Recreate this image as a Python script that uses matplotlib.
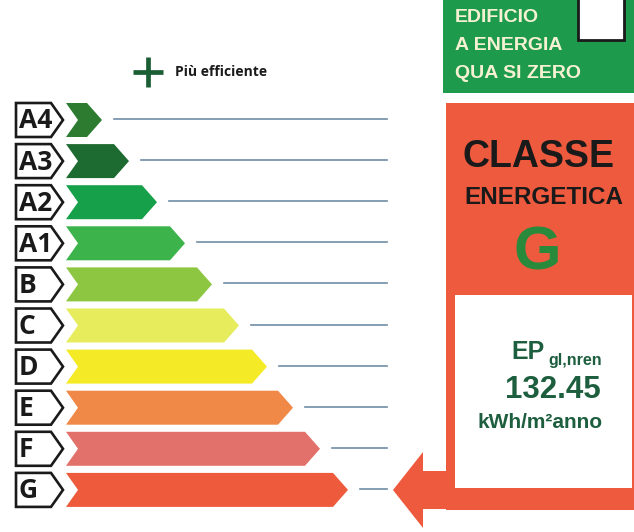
import matplotlib.pyplot as plt
from matplotlib.patches import Polygon, Rectangle

# energy classes, top to bottom, with the x position of each arrow tip
classes = ['A4', 'A3', 'A2', 'A1', 'B', 'C', 'D', 'E', 'F', 'G']
bar_tips = [102, 129, 157, 185, 212, 239, 267, 293, 320, 348]
bar_colors = ['#2c7b30', '#1e6b31', '#17a04a', '#3cb44b', '#8dc640',
              '#e6ec5c', '#f4ea25', '#f08848', '#e2716b', '#ee5a3c']
current_class = 'G'
ep_value = '132.45'

fig = plt.figure(figsize=(6.34, 5.32), dpi=100)
ax = fig.add_axes([0, 0, 1, 1])
ax.set_xlim(0, 634)
ax.set_ylim(532, 0)
ax.axis('off')

row0, step, h = 120, 41.1, 34
x0, notch, point = 66, 12, 15

for i, (cl, tip, col) in enumerate(zip(classes, bar_tips, bar_colors)):
    yc = row0 + i * step
    top, bot = yc - h / 2, yc + h / 2
    # label box
    lab = Polygon([(16, top), (51, top), (63, yc), (51, bot), (16, bot)],
                  closed=True, facecolor='white', edgecolor='#1a1a1a', lw=1.9)
    ax.add_patch(lab)
    ax.text(19, yc + 1, cl, fontsize=19, family='Open Sans', weight='bold',
            color='#1a1a1a', ha='left', va='center')
    # arrow bar
    bar = Polygon([(x0, top), (tip - point, top), (tip, yc), (tip - point, bot),
                   (x0, bot), (x0 + notch, yc)], closed=True, facecolor=col,
                  edgecolor='none')
    ax.add_patch(bar)
    ax.plot([tip + 12, 387], [yc - 1, yc - 1], color='#6f8ea8', lw=1.2)

# "Più efficiente" header
ax.plot([133, 163], [72, 72], color='#1b5e34', lw=3.4, solid_capstyle='butt')
ax.plot([148, 148], [57, 87], color='#1b5e34', lw=3.4, solid_capstyle='butt')
ax.text(175, 72, 'Più efficiente', fontsize=10, weight='bold',
        family='Open Sans', color='#1a1a1a', ha='left', va='center')

# nZEB box
ax.add_patch(Rectangle((443, -5), 200, 98, facecolor='#1d9a4c', edgecolor='none'))
ax.add_patch(Rectangle((578, -5), 46, 45, facecolor='white', edgecolor='#1a1a1a', lw=2))
for j, line in enumerate(['EDIFICIO', 'A ENERGIA', 'QUA SI ZERO']):
    ax.text(455, 18 + j * 28, line, fontsize=14, weight='bold',
            family='Liberation Sans', color='#f6f1d2', ha='left', va='center')

# class panel
red = '#ee5a3e'
ax.add_patch(Rectangle((446, 103), 200, 407, facecolor=red, edgecolor='none'))
ax.add_patch(Rectangle((455, 295), 177, 193, facecolor='white', edgecolor='none'))
ax.add_patch(Polygon([(393, 490), (423, 452), (423, 471), (450, 471),
                      (450, 509), (423, 509), (423, 528)], closed=True,
                     facecolor=red, edgecolor='none'))

ax.text(538, 157, 'CLASSE', fontsize=27, weight='bold', family='Liberation Sans',
        color='#1a1a1a', ha='center', va='center')
ax.text(544, 198, 'ENERGETICA', fontsize=17.5, weight='bold', family='Liberation Sans',
        color='#1a1a1a', ha='center', va='center')
ax.text(537, 254, current_class, fontsize=44, weight='bold', family='Liberation Sans',
        color='#2a8a3c', ha='center', va='center')

txt_col = '#1d5e3e'
ax.text(545, 352, 'EP', fontsize=18, weight='bold', family='Liberation Sans',
        color=txt_col, ha='right', va='center')
ax.text(548, 360, 'gl,nren', fontsize=11.5, weight='bold', family='Liberation Sans',
        color=txt_col, ha='left', va='center')
ax.text(553, 390, ep_value, fontsize=22.5, weight='bold', family='Liberation Sans',
        color=txt_col, ha='center', va='center')
ax.text(540, 422, 'kWh/m²anno', fontsize=15, weight='bold',
        family='Liberation Sans', color=txt_col, ha='center', va='center')

fig.savefig('out.png', dpi=100)
